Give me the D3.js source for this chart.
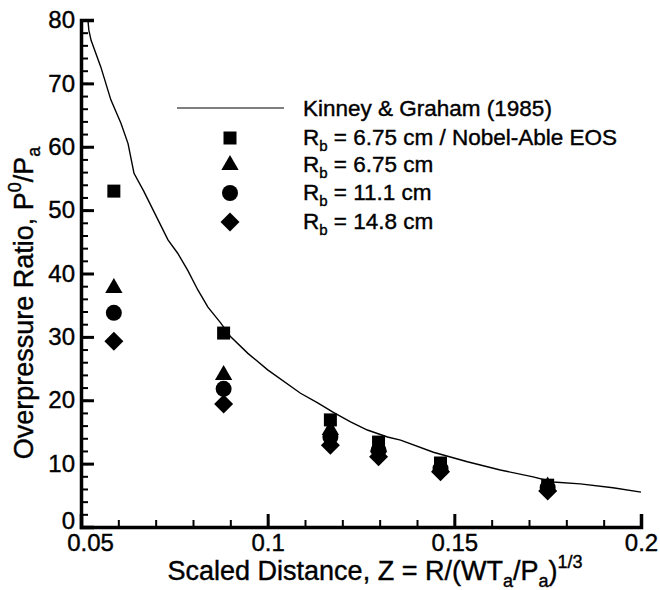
<!DOCTYPE html>
<html><head><meta charset="utf-8">
<script src="https://cdn.jsdelivr.net/npm/d3@7"></script>
<style>
body{margin:0;background:#fff;}
text{font-family:"Liberation Sans",Arial,sans-serif;fill:#000;stroke:#000;stroke-width:0.4px;}
</style></head>
<body><svg id="c" width="660" height="590"></svg>
<script>
// Data
const curveZ = [0.0519,0.0521,0.0527,0.0553,0.0580,0.0607,0.0626,0.0642,0.0668,0.0733,0.0759,0.0786,0.0813,0.0840,0.0874,0.0901,0.0947,0.1000,0.1088,0.1134,0.1176,0.1222,0.1267,0.1321,0.1356,0.1444,0.1535,0.1623,0.1711,0.1765,0.1837,0.1925,0.2000];
const curveP = [79.7,78.4,76.8,72.6,67.4,63.7,60.5,55.8,53.0,45.3,43.2,40.5,37.4,34.7,32.2,30.0,27.4,24.8,21.1,19.6,18.1,16.6,15.3,14.2,13.7,11.8,10.3,9.0,7.9,7.1,6.8,6.2,5.5];
const pointZ = [0.0588,0.0882,0.1168,0.1297,0.1463,0.1750];
const seriesSquare = [53.0,30.6,16.9,13.4,10.1,6.6];
const seriesTriangle = [37.7,24.0,15.3,12.6,9.5,6.4];
const seriesCircle = [33.8,21.8,14.2,12.1,9.2,6.2];
const seriesDiamond = [29.3,19.4,12.9,11.1,8.7,5.7];
const xTicks = [0.05,0.1,0.15,0.2];
const xTickLabels = ["0.05","0.1","0.15","0.2"];
const yTicks = [0,10,20,30,40,50,60,70,80];

const svg = d3.select("#c");
const L=81, R=641, T=20, B=527;
const x = d3.scaleLinear().domain([0.05,0.2]).range([L,R]);
const y = d3.scaleLinear().domain([0,80]).range([B,T]);

const xMinor = d3.range(0.05,0.2001,0.01).map(v=>+v.toFixed(3));
const yMinor = d3.range(0,80.01,2);

const gx = svg.append("g").attr("transform",`translate(0,${B})`);
gx.call(d3.axisBottom(x).tickValues(xMinor).tickSize(-7).tickFormat(""));
gx.selectAll(".tick line").attr("stroke-width",2);
gx.select(".domain").remove();
const gx2 = svg.append("g").attr("transform",`translate(0,${B})`);
gx2.call(d3.axisBottom(x).tickValues(xTicks).tickSize(-13).tickPadding(4)
  .tickFormat((d,i)=>xTickLabels[i]));
gx2.selectAll(".tick line").attr("stroke-width",3);
gx2.selectAll(".tick text").attr("font-size",24).attr("dy","0.85em")
  .attr("x",d=>d===0.05?9:0)
  .attr("font-family","Liberation Sans, Arial, sans-serif").attr("fill","#000");
gx2.select(".domain").attr("stroke-width",3.5);

const gy = svg.append("g").attr("transform",`translate(${L},0)`);
gy.call(d3.axisLeft(y).tickValues(yMinor).tickSize(-7).tickFormat(""));
gy.selectAll(".tick line").attr("stroke-width",2);
gy.select(".domain").remove();
const gy2 = svg.append("g").attr("transform",`translate(${L},0)`);
gy2.call(d3.axisLeft(y).tickValues(yTicks).tickSize(-13).tickFormat(d3.format("d")));
gy2.selectAll(".tick line").attr("stroke-width",3);
gy2.selectAll(".tick text").attr("font-size",24).attr("x",-6)
  .attr("dy",d=>d===0?"0.05em":"0.32em")
  .attr("font-family","Liberation Sans, Arial, sans-serif").attr("fill","#000");
gy2.select(".domain").attr("stroke-width",3.5);

// curve
const curveData = curveZ.map((z,i)=>[z,curveP[i]]);
svg.append("path").datum(curveData)
  .attr("fill","none").attr("stroke","#000").attr("stroke-width",1.4)
  .attr("d",d3.line().x(d=>x(d[0])).y(d=>y(d[1])));

// markers
function marker(sel,type,size){
  if(type==="circle") return sel.append("circle").attr("r",size/2);
  if(type==="diamond"){
    const h=size/2;
    return sel.append("path").attr("d",`M0,${-h}L${h},0L0,${h}L${-h},0Z`);
  }
  const sym = {square:d3.symbolSquare,triangle:d3.symbolTriangle}[type];
  return sel.append("path").attr("d",d3.symbol().type(sym).size(size*size*(type==="triangle"?0.45:1))());
}
const sets = [
  {vals:seriesSquare,type:"square",size:13},
  {vals:seriesTriangle,type:"triangle",size:17},
  {vals:seriesCircle,type:"circle",size:16},
  {vals:seriesDiamond,type:"diamond",size:19}
];
sets.forEach(s=>{
  s.vals.forEach((v,i)=>{
    const g = svg.append("g").attr("transform",`translate(${x(pointZ[i])},${y(v)})`);
    marker(g,s.type,s.size).attr("fill","#000");
  });
});

// legend
const lg = svg.append("g");
lg.append("line").attr("x1",177).attr("x2",284).attr("y1",108).attr("y2",108)
  .attr("stroke","#000").attr("stroke-width",1.2);
lg.append("text").attr("x",303).attr("y",116).attr("font-size",22.5).text("Kinney & Graham (1985)");
const legRows = [
  {type:"square",size:13,cy:138,label:"6.75 cm / Nobel-Able EOS"},
  {type:"triangle",size:17,cy:165,label:"6.75 cm"},
  {type:"circle",size:16,cy:193,label:"11.1 cm"},
  {type:"diamond",size:19,cy:222,label:"14.8 cm"}
];
legRows.forEach(r=>{
  const g = lg.append("g").attr("transform",`translate(230,${r.cy})`);
  marker(g,r.type,r.size).attr("fill","#000");
  const t = lg.append("text").attr("x",303).attr("y",r.cy+7).attr("font-size",22.5);
  t.append("tspan").text("R");
  t.append("tspan").attr("font-size",15).attr("dy",6).text("b");
  t.append("tspan").attr("dy",-6).text(" = "+r.label);
});

// x title
const xt = svg.append("text").attr("x",375).attr("y",580).attr("text-anchor","middle").attr("font-size",27);
xt.append("tspan").text("Scaled Distance, Z = R/(WT");
xt.append("tspan").attr("font-size",18).attr("dy",7).text("a");
xt.append("tspan").attr("dy",-7).text("/P");
xt.append("tspan").attr("font-size",18).attr("dy",7).text("a");
xt.append("tspan").attr("dy",-7).text(")");
xt.append("tspan").attr("font-size",18).attr("dy",-12).text("1/3");

// y title
const yt = svg.append("text").attr("transform","translate(33,303) rotate(-90)")
  .attr("text-anchor","middle").attr("font-size",27);
yt.append("tspan").text("Overpressure Ratio, P");
yt.append("tspan").attr("font-size",18).attr("dy",-12).text("0");
yt.append("tspan").attr("dy",12).text("/P");
yt.append("tspan").attr("font-size",18).attr("dy",7).text("a");
</script></body></html>
